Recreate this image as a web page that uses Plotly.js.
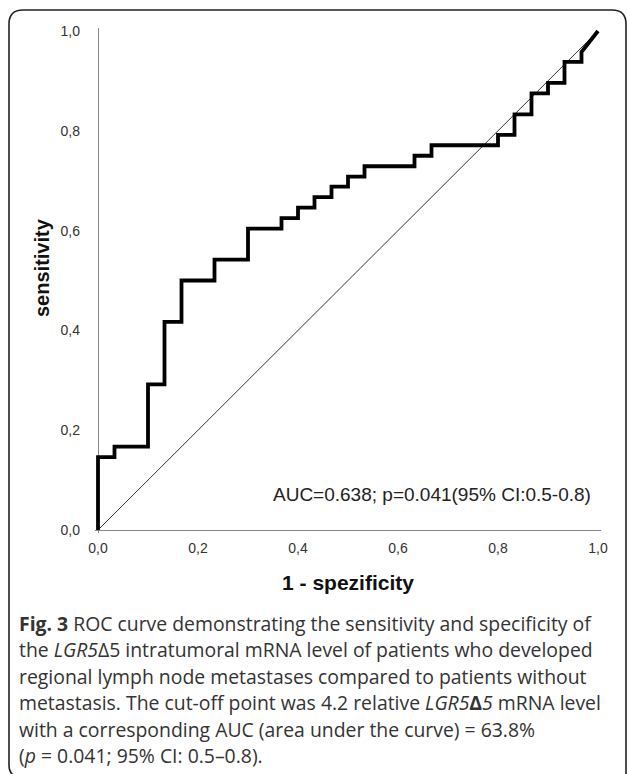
<!DOCTYPE html>
<html>
<head>
<meta charset="utf-8">
<script src="https://cdn.plot.ly/plotly-3.0.1.min.js"></script>
<style>
html,body{margin:0;padding:0;background:#fff;}
#chart{width:627px;height:774px;}
</style>
</head>
<body>
<div id="chart"></div>
<script>
// ROC coordinates (1 - specificity, sensitivity)
const fpr = [0, 0, 0.033, 0.033, 0.1, 0.1, 0.133, 0.133, 0.167, 0.167, 0.233, 0.233, 0.3, 0.3, 0.367, 0.367, 0.4, 0.4, 0.433, 0.433, 0.467, 0.467, 0.5, 0.5, 0.533, 0.533, 0.633, 0.633, 0.667, 0.667, 0.8, 0.8, 0.833, 0.833, 0.867, 0.867, 0.9, 0.9, 0.933, 0.933, 0.967, 0.967, 1.0];
const sens = [0, 0.146, 0.146, 0.167, 0.167, 0.292, 0.292, 0.417, 0.417, 0.5, 0.5, 0.542, 0.542, 0.604, 0.604, 0.625, 0.625, 0.646, 0.646, 0.667, 0.667, 0.688, 0.688, 0.708, 0.708, 0.729, 0.729, 0.75, 0.75, 0.771, 0.771, 0.792, 0.792, 0.833, 0.833, 0.875, 0.875, 0.896, 0.896, 0.938, 0.938, 0.958, 1.0];
// reference (chance) line
const refX = [0, 1];
const refY = [0, 1];
// tick values and labels
const tickVals = [0, 0.2, 0.4, 0.6, 0.8, 1.0];
const tickText = ['0,0', '0,2', '0,4', '0,6', '0,8', '1,0'];
// texts
const xTitle = '1 - spezificity';
const yTitle = 'sensitivity';
const aucText = 'AUC=0.638; p=0.041(95% CI:0.5-0.8)';
const captionLines = [
  '<b>Fig. 3</b> ROC curve demonstrating the sensitivity and specificity of',
  'the <i>LGR5</i>Δ5 intratumoral mRNA level of patients who developed',
  'regional lymph node metastases compared to patients without',
  'metastasis. The cut-off point was 4.2 relative <i>LGR5</i><b>Δ</b><i>5</i> mRNA level',
  'with a corresponding AUC (area under the curve) = 63.8%',
  '(<i>p</i> = 0.041; 95% CI: 0.5–0.8).'
];

// geometry helpers (pixel -> paper)
const W = 627, H = 774;
const mL = 95, mR = 26, mT = 28, mB = 241;
const pw = W - mL - mR, ph = H - mT - mB;
const px = v => (v - mL) / pw;
const py = v => (H - mB - v) / ph;

const ARIAL = 'Arial, "Liberation Sans", sans-serif';
const captionY = [623, 649.5, 676, 702.5, 729, 755];
const annotations = [{
  x: px(271), y: py(494), xref: 'paper', yref: 'paper',
  xanchor: 'left', yanchor: 'middle', showarrow: false,
  text: aucText,
  font: {family: ARIAL, size: 19, color: '#222'}
}, {
  x: px(42), y: py(268), xref: 'paper', yref: 'paper',
  xanchor: 'center', yanchor: 'middle', showarrow: false, textangle: -90,
  text: '<b>' + yTitle + '</b>',
  font: {family: ARIAL, size: 20, color: '#111'}
}];
captionLines.forEach((t, i) => {
  annotations.push({
    x: px(17), y: py(captionY[i]), xref: 'paper', yref: 'paper',
    xanchor: 'left', yanchor: 'middle', showarrow: false, align: 'left',
    text: t,
    font: {family: '"Open Sans", sans-serif', size: 19.4, color: '#333'}
  });
});

const frame = {
  type: 'path', xref: 'paper', yref: 'paper', layer: 'below',
  path: `M ${px(21)},${py(777)} Q ${px(9)},${py(777)} ${px(9)},${py(765)} L ${px(9)},${py(24)} Q ${px(9)},${py(10)} ${px(23)},${py(10)} L ${px(612)},${py(10)} Q ${px(626)},${py(10)} ${px(626)},${py(24)} L ${px(626)},${py(790)}`,
  line: {color: '#222', width: 1.6}
};

const traces = [
  {x: refX, y: refY, mode: 'lines', line: {color: '#333', width: 1}, hoverinfo: 'skip'},
  {x: fpr, y: sens, mode: 'lines', line: {color: '#000', width: 3.8}}
];

const axisCommon = {
  range: [-0.006, 1.006], tickvals: tickVals, ticktext: tickText,
  showgrid: false, showline: false, zeroline: true, zerolinecolor: '#888', zerolinewidth: 1,
  ticks: '', tickfont: {family: ARIAL, size: 14, color: '#333'},
  fixedrange: true
};

const layout = {
  width: W, height: H,
  margin: {l: mL, r: mR, t: mT, b: mB},
  paper_bgcolor: '#fff', plot_bgcolor: 'rgba(0,0,0,0)',
  showlegend: false,
  xaxis: Object.assign({}, axisCommon, {
    ticklabelstandoff: 5,
    title: {text: xTitle, standoff: 20, font: {family: ARIAL, size: 21, color: '#111', weight: 'bold'}}
  }),
  yaxis: Object.assign({}, axisCommon, {
    ticklabelstandoff: 14
  }),
  annotations: annotations,
  shapes: [frame]
};

Plotly.newPlot('chart', traces, layout, {displayModeBar: false, staticPlot: true});
</script>
</body>
</html>
